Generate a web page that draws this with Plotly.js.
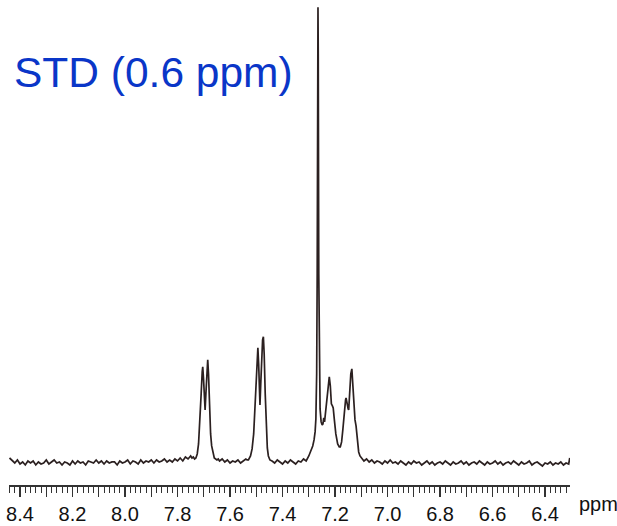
<!DOCTYPE html>
<html>
<head>
<meta charset="utf-8">
<script src="https://cdn.plot.ly/plotly-3.0.1.min.js"></script>
<style>html,body{margin:0;padding:0;background:#fff;}#chart{width:617px;height:526px;}</style>
</head>
<body>
<div id="chart"></div>
<script>
// Chemical shift (ppm) and intensity
const ppm = [
  8.44,8.43,8.42,8.41,8.40,8.39,8.38,8.37,8.36,8.35,8.34,8.33,8.32,8.31,8.30,8.29,8.28,8.27,8.26,8.25,
  8.24,8.23,8.22,8.21,8.20,8.19,8.18,8.17,8.16,8.15,8.14,8.13,8.12,8.11,8.10,8.09,8.08,8.07,8.06,8.05,
  8.04,8.03,8.02,8.01,8.00,7.99,7.98,7.97,7.96,7.95,7.94,7.93,7.92,7.91,7.90,7.89,7.88,7.87,7.86,7.85,
  7.84,7.83,7.82,7.81,7.80,7.79,7.78,7.77,7.76,7.75,7.745,7.74,7.735,
  7.730,7.725,7.720,7.715,7.710,7.706,7.704,7.701,7.698,7.695,7.692,7.688,7.685,7.682,7.678,7.674,7.670,7.665,7.660,7.650,
  7.645,7.64,7.63,7.62,7.61,7.60,7.59,7.58,7.57,7.56,7.55,7.54,7.535,
  7.530,7.522,7.516,7.510,7.505,7.500,7.496,7.494,7.491,7.488,7.486,7.483,7.479,7.476,7.473,7.470,7.466,7.462,7.458,7.454,7.448,
  7.44,7.43,7.42,7.41,7.40,7.39,7.38,7.37,7.36,7.35,7.34,7.33,7.32,7.31,7.30,7.295,7.29,
  7.285,7.280,7.276,7.273,7.270,7.268,7.266,7.265,7.264,7.262,7.260,7.257,7.253,7.249,7.246,7.243,
  7.240,7.235,7.228,7.222,7.218,7.214,7.210,7.207,7.203,7.197,7.190,7.184,7.180,7.175,7.170,7.165,7.160,7.158,7.155,7.150,
  7.148,7.144,7.140,7.136,7.132,7.128,7.124,7.120,7.115,7.110,7.105,7.100,
  7.095,7.09,7.08,7.07,7.06,7.05,7.04,7.03,7.02,7.01,7.00,
  6.99,6.98,6.97,6.96,6.95,6.94,6.93,6.92,6.91,6.90,6.89,6.88,6.87,6.86,6.85,6.84,6.83,6.82,6.81,6.80,
  6.79,6.78,6.77,6.76,6.75,6.74,6.73,6.72,6.71,6.70,6.69,6.68,6.67,6.66,6.65,6.64,6.63,6.62,6.61,6.60,
  6.59,6.58,6.57,6.56,6.55,6.54,6.53,6.52,6.51,6.50,6.49,6.48,6.47,6.46,6.45,6.44,6.43,6.42,6.41,6.40,
  6.39,6.38,6.37,6.36,6.35,6.34,6.33,6.32,6.31,6.306
];
const intensity = [
  6,3,1,4,0,2,-1,3,1,3,-1,2,0,1,4,0,2,4,1,2,
  -1,2,1,-1,3,0,3,1,2,-1,3,2,1,4,1,3,0,3,1,2,
  2,-1,3,1,2,4,0,3,2,0,4,1,3,2,4,1,4,2,3,5,
  2,4,2,5,3,6,3,7,5,8,6,7,5,
  6,10,20,40,70,92,97,85,62,54,70,98,104,90,55,30,18,10,6,4,
  5,3,5,2,4,1,3,2,4,1,3,5,4,
  4,8,15,30,60,95,112,116,100,68,59,80,115,124,127,110,70,35,16,8,4,
  3,1,4,2,0,3,1,4,2,0,3,2,5,3,8,11,14,
  18,24,32,45,90,190,400,456,410,190,95,55,42,39,40,46,
  42,55,75,87,78,60,58,56,45,30,20,17,17,22,35,52,64,66,60,55,
  54,75,90,95,80,55,44,38,22,12,8,6,
  5,3,5,2,4,1,3,2,0,3,1,
  4,1,2,0,3,1,-1,2,0,3,1,2,-1,1,3,0,2,-1,1,2,
  0,3,1,-1,2,0,1,3,0,2,-1,1,2,0,3,1,-1,2,0,1,
  3,0,2,-1,1,2,0,3,1,-1,2,0,1,3,-1,1,2,0,-2,1,
  0,2,-1,1,0,2,-1,1,0,6
];
// Axis ticks
const tickValues = [8.4,8.3,8.2,8.1,8.0,7.9,7.8,7.7,7.6,7.5,7.4,7.3,7.2,7.1,7.0,6.9,6.8,6.7,6.6,6.5,6.4];
const tickLabels = ["8.4","","8.2","","8.0","","7.8","","7.6","","7.4","","7.2","","7.0","","6.8","","6.6","","6.4"];
const titleText = "STD (0.6 ppm)";
const unitText = "ppm";

const trace = {
  x: ppm, y: intensity, type: 'scatter', mode: 'lines',
  line: {color: '#2b2020', width: 1.7, shape: 'linear'},
  hoverinfo: 'skip'
};

const sans = 'Liberation Sans, Arial, sans-serif';

const layout = {
  width: 617, height: 526,
  margin: {l: 9, r: 47, t: 5, b: 41},
  paper_bgcolor: '#ffffff', plot_bgcolor: '#ffffff',
  showlegend: false,
  font: {family: sans, color: '#111'},
  xaxis: {
    range: [8.442, 6.305],
    showgrid: false, zeroline: false,
    showline: true, linecolor: '#333', linewidth: 1.5,
    ticks: 'outside', ticklen: 10, tickwidth: 1.3, tickcolor: '#333',
    tickmode: 'array', tickvals: tickValues, ticktext: tickLabels,
    tickfont: {family: sans, size: 20, color: '#111'},
    minor: {tick0: 6.4, dtick: 0.02, ticks: 'outside', ticklen: 6, tickwidth: 1, tickcolor: '#333', showgrid: false}
  },
  yaxis: {visible: false, range: [-21, 458.3], fixedrange: true},
  annotations: [
    {text: titleText, xref: 'paper', yref: 'paper', x: 0.005, y: 0.860, xanchor: 'left', yanchor: 'middle',
     showarrow: false, font: {family: sans, size: 42.5, color: '#0a36c8'}},
    {text: unitText, xref: 'paper', yref: 'paper', x: 1.05, y: -0.040, xanchor: 'center', yanchor: 'middle',
     showarrow: false, font: {family: sans, size: 20, color: '#111'}}
  ]
};

Plotly.newPlot('chart', [trace], layout, {staticPlot: true, displayModeBar: false});
</script>
</body>
</html>
